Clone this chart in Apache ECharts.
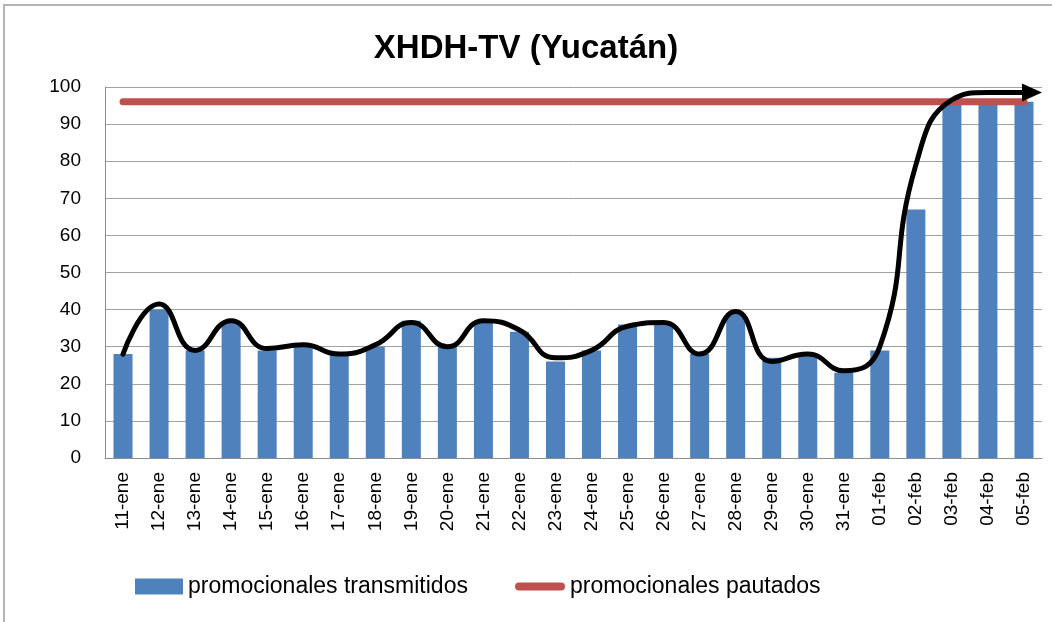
<!DOCTYPE html>
<html>
<head>
<meta charset="utf-8">
<script src="https://cdn.jsdelivr.net/npm/echarts@6/dist/echarts.min.js"></script>
<style>
  html, body { margin: 0; padding: 0; background: #fff; overflow: hidden; }
  #frame {
    position: absolute; left: 3px; top: 4px; width: 1100px; height: 700px;
    border-left: 2px solid #b4b4b4; border-top: 2px solid #b4b4b4; box-sizing: border-box;
  }
  #chart { position: absolute; left: 0; top: 0; width: 1052px; height: 622px; }
</style>
</head>
<body>
<div id="frame"></div>
<div id="chart"></div>
<script>
// categorías (días)
const dias = ['11-ene', '12-ene', '13-ene', '14-ene', '15-ene', '16-ene', '17-ene', '18-ene',
  '19-ene', '20-ene', '21-ene', '22-ene', '23-ene', '24-ene', '25-ene', '26-ene', '27-ene',
  '28-ene', '29-ene', '30-ene', '31-ene', '01-feb', '02-feb', '03-feb', '04-feb', '05-feb'];
// promocionales transmitidos (barras)
const transmitidos = [28, 40, 29, 37, 29, 30, 28, 30, 37, 30, 37, 34, 26, 29, 36, 36, 28,
  39, 27, 28, 23, 29, 67, 96, 96, 96];
// promocionales pautados (línea roja)
const pautados = [96, 96, 96, 96, 96, 96, 96, 96, 96, 96, 96, 96, 96, 96, 96, 96, 96,
  96, 96, 96, 96, 96, 96, 96, 96, 96];
// tendencia dibujada a mano (línea negra con flecha)
const tendencia = [28, 41.5, 29, 37, 29.5, 30.5, 28, 30.5, 36.5, 30, 37, 34.5, 27, 29, 35.5,
  36.5, 28, 39.5, 26, 28, 23.5, 30, 79, 96.5, 98.5, 98.5];
const ejeY = { min: 0, max: 100, interval: 10 };

const font = 'Liberation Sans, Arial, sans-serif';

// última punta con flecha
const tendenciaData = tendencia.map((v, i) => {
  if (i === tendencia.length - 1) {
    return {
      value: v,
      symbol: 'triangle',
      symbolSize: [18, 20],
      symbolRotate: -90,
      symbolOffset: [8, 0],
      itemStyle: { color: '#000' }
    };
  }
  return v;
});

const option = {
  animation: false,
  textStyle: { fontFamily: font },
  title: {
    text: 'XHDH-TV (Yucatán)',
    left: 'center',
    top: 27,
    textStyle: { fontSize: 33, fontWeight: 'bold', color: '#000', fontFamily: font }
  },
  legend: [
    {
      left: 130, top: 570,
      itemWidth: 48, itemHeight: 16, itemGap: 0,
      textStyle: { fontSize: 23, color: '#000', fontFamily: font },
      data: [{ name: 'promocionales transmitidos', icon: 'rect' }]
    },
    {
      left: 510, top: 570,
      itemWidth: 50, itemHeight: 16, itemGap: 0,
      textStyle: { fontSize: 23, color: '#000', fontFamily: font },
      data: [{
        name: 'promocionales pautados',
        icon: 'path://M4,0 L46,0 A4,4 0 0 1 46,8 L4,8 A4,4 0 0 1 4,0 Z'
      }]
    }
  ],
  grid: { left: 105, right: 10, top: 87, bottom: 164 },
  xAxis: {
    type: 'category',
    data: dias,
    boundaryGap: true,
    axisLine: { lineStyle: { color: '#8c8c8c', width: 1 } },
    axisTick: { show: false },
    axisLabel: { rotate: 90, margin: 14, fontSize: 19, color: '#000', fontFamily: font, interval: 0 }
  },
  yAxis: {
    type: 'value',
    min: ejeY.min, max: ejeY.max, interval: ejeY.interval,
    axisLine: { show: true, lineStyle: { color: '#8c8c8c', width: 1 } },
    axisTick: { show: false },
    axisLabel: { margin: 24, fontSize: 19, color: '#000', fontFamily: font },
    splitLine: { lineStyle: { color: '#a0a0a0', width: 1 } }
  },
  series: [
    {
      name: 'promocionales transmitidos',
      type: 'bar',
      data: transmitidos,
      barWidth: 19,
      itemStyle: { color: '#4F81BD' }
    },
    {
      name: 'promocionales pautados',
      type: 'line',
      data: pautados,
      symbol: 'none',
      z: 3,
      lineStyle: { color: '#C0504D', width: 7, cap: 'round' },
      itemStyle: { color: '#C0504D' }
    },
    {
      name: 'tendencia',
      type: 'line',
      data: tendenciaData,
      smooth: 0.5,
      symbol: 'none',
      showSymbol: true,
      z: 5,
      lineStyle: { color: '#000', width: 5, cap: 'round' },
      itemStyle: { color: '#000' }
    }
  ]
};

const chart = echarts.init(document.getElementById('chart'));
chart.setOption(option);
</script>
</body>
</html>
